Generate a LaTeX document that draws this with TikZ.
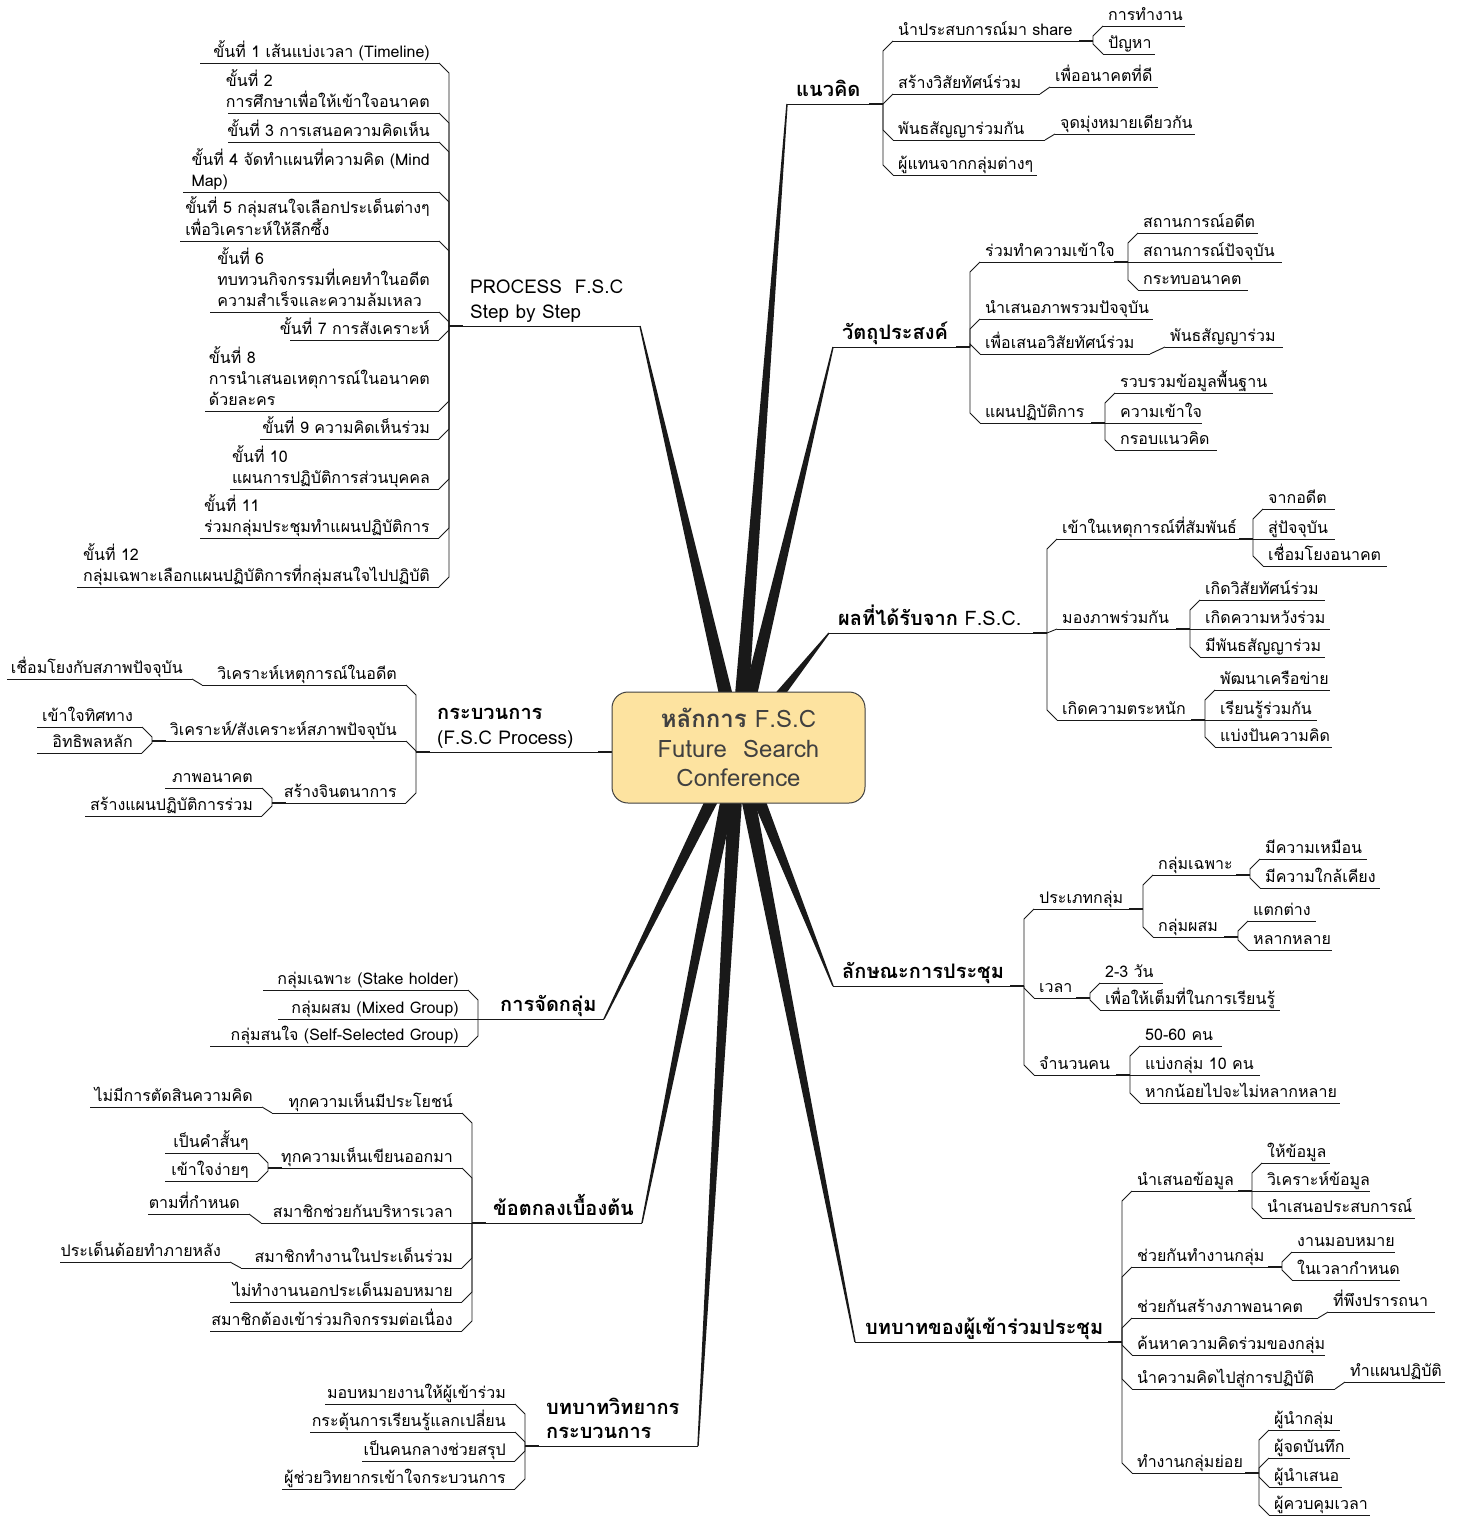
\documentclass[tikz,border=0pt]{standalone}
\usepackage{fontspec}
\setmainfont[Script=Thai]{Loma}
\usetikzlibrary{calc}
\definecolor{boxfill}{RGB}{253,227,160}
\definecolor{ink}{RGB}{25,25,25}

\tikzset{
  ul/.style={draw=ink, line width=0.9pt},
  stub/.style={draw=ink, line width=2.8pt},
  tx/.style={inner sep=0pt, text depth=3.5pt, align=left, font=\fontsize{16}{21}\selectfont},
  hd/.style={inner sep=0pt, text depth=4pt, align=left, font=\fontsize{20}{24}\selectfont\bfseries},
  hdl/.style={inner sep=0pt, text depth=4pt, align=left, font=\fontsize{19}{25}\selectfont},
}

% topic on an underline, text at the left end (right-hand side of the map)
\newcommand\topicR[5]{%
  \coordinate (#1-l) at (#2,#4);
  \coordinate (#1-r) at (#3,#4);
  \node[tx,anchor=south west] (#1) at ($(#1-l)+(5,-2)$) {#5};
  \draw[ul] (#1-l) -- (#1-r);}
% topic on an underline, text at the right end (left-hand side of the map)
\newcommand\topicL[5]{%
  \coordinate (#1-l) at (#2,#4);
  \coordinate (#1-r) at (#3,#4);
  \node[tx,anchor=south east] (#1) at ($(#1-r)+(-9,-2)$) {#5};
  \draw[ul] (#1-l) -- (#1-r);}
% main branch heading: name, x-left, x-right, y, text x, style, text
\newcommand\head[7]{%
  \coordinate (#1-l) at (#2,#4);
  \coordinate (#1-r) at (#3,#4);
  \node[#6,anchor=south west] (#1) at (#5,#4-3) {#7};
  \draw[ul] (#1-l) -- (#1-r);}
% chamfered connectors
\newcommand\linkR[3]{\draw[ul] (#1) -| ($(#2-l)+(-10,#3)$) -- (#2-l);}
\newcommand\linkL[3]{\draw[ul] (#1) -| ($(#2-r)+(10,#3)$) -- (#2-r);}
\newcommand\stubR[1]{\draw[stub] ($(#1-r)+(-14,0)$) -- (#1-r);}
\newcommand\stubL[1]{\draw[stub] (#1-l) -- ($(#1-l)+(14,0)$);}
% tapered spoke from the hub to a heading
\newcommand\spoke[1]{\fill[ink] ($(hub)!7.5pt!90:(#1)$) -- ($(#1)!0.7pt!-90:(hub)$) -- ($(#1)!0.7pt!90:(hub)$) -- ($(hub)!7.5pt!-90:(#1)$) -- cycle;}

\begin{document}
\begin{tikzpicture}[x=1pt,y=-1pt]
\fill[white] (0,0) rectangle (1459,1518);
\useasboundingbox (0,0) rectangle (1459,1518);
\coordinate (hub) at (738,747);

% ---------------- แนวคิด
\head{A}{787}{883}{104}{796}{hd}{แนวคิด}
\topicR{A1}{893}{1093}{41}{นำประสบการณ์มา share}
\topicR{A1a}{1103}{1185}{26}{การทำงาน}
\topicR{A1b}{1103}{1155}{54}{ปัญหา}
\topicR{A2}{893}{1040}{94}{สร้างวิสัยทัศน์ร่วม}
\topicR{A2a}{1050}{1158}{87}{เพื่ออนาคตที่ดี}
\topicR{A3}{893}{1045}{140}{พันธสัญญาร่วมกัน}
\topicR{A3a}{1055}{1195}{134}{จุดมุ่งหมายเดียวกัน}
\topicR{A4}{893}{1037}{175}{ผู้แทนจากกลุ่มต่างๆ}
\linkR{A-r}{A1}{10}\linkR{A-r}{A2}{10}\linkR{A-r}{A3}{-10}\linkR{A-r}{A4}{-10}
\linkR{A1-r}{A1a}{10}\linkR{A1-r}{A1b}{-10}
\draw[ul] (A2-r) -- (A2a-l);
\draw[ul] (A3-r) -- (A3a-l);
\stubR{A}\stubR{A1}

% ---------------- วัตถุประสงค์
\head{B}{833}{970}{347}{842}{hd}{วัตถุประสงค์}
\topicR{B1}{980}{1128}{262}{ร่วมทำความเข้าใจ}
\topicR{B1a}{1138}{1258}{233}{สถานการณ์อดีต}
\topicR{B1b}{1138}{1282}{262}{สถานการณ์ปัจจุบัน}
\topicR{B1c}{1138}{1248}{290}{กระทบอนาคต}
\topicR{B2}{980}{1153}{319}{นำเสนอภาพรวมปัจจุบัน}
\topicR{B3}{980}{1150}{354}{เพื่อเสนอวิสัยทัศน์ร่วม}
\topicR{B3a}{1165}{1283}{347}{พันธสัญญาร่วม}
\topicR{B4}{980}{1105}{423}{แผนปฏิบัติการ}
\topicR{B4a}{1115}{1273}{393}{รวบรวมข้อมูลพื้นฐาน}
\topicR{B4b}{1115}{1202}{423}{ความเข้าใจ}
\topicR{B4c}{1115}{1217}{450}{กรอบแนวคิด}
\linkR{B-r}{B1}{10}\linkR{B-r}{B2}{10}\linkR{B-r}{B3}{-10}\linkR{B-r}{B4}{-10}
\linkR{B1-r}{B1a}{10}\linkR{B1-r}{B1b}{0}\linkR{B1-r}{B1c}{-10}
\linkR{B4-r}{B4a}{10}\linkR{B4-r}{B4b}{0}\linkR{B4-r}{B4c}{-10}
\draw[ul] (B3-r) -- (B3a-l);
\stubR{B}\stubR{B1}\stubR{B4}

% ---------------- ผลที่ได้รับจาก F.S.C.
\head{C}{829}{1047}{633}{838}{hd}{ผลที่ได้รับจาก {\mdseries F.S.C.}}
\topicR{C1}{1057}{1253}{539}{เข้าในเหตุการณ์ที่สัมพันธ์}
\topicR{C1a}{1263}{1335}{509}{จากอดีต}
\topicR{C1b}{1263}{1335}{539}{สู่ปัจจุบัน}
\topicR{C1c}{1263}{1387}{566}{เชื่อมโยงอนาคต}
\topicR{C2}{1057}{1190}{629}{มองภาพร่วมกัน}
\topicR{C2a}{1200}{1325}{600}{เกิดวิสัยทัศน์ร่วม}
\topicR{C2b}{1200}{1330}{629}{เกิดความหวังร่วม}
\topicR{C2c}{1200}{1325}{657}{มีพันธสัญญาร่วม}
\topicR{C3}{1057}{1205}{720}{เกิดความตระหนัก}
\topicR{C3a}{1215}{1330}{690}{พัฒนาเครือข่าย}
\topicR{C3b}{1215}{1317}{720}{เรียนรู้ร่วมกัน}
\topicR{C3c}{1215}{1332}{747}{แบ่งปันความคิด}
\linkR{C-r}{C1}{10}\linkR{C-r}{C2}{4}\linkR{C-r}{C3}{-10}
\linkR{C1-r}{C1a}{10}\linkR{C1-r}{C1b}{0}\linkR{C1-r}{C1c}{-10}
\linkR{C2-r}{C2a}{10}\linkR{C2-r}{C2b}{0}\linkR{C2-r}{C2c}{-10}
\linkR{C3-r}{C3a}{10}\linkR{C3-r}{C3b}{0}\linkR{C3-r}{C3c}{-10}
\stubR{C}\stubR{C1}\stubR{C2}\stubR{C3}

% ---------------- ลักษณะการประชุม
\head{D}{833}{1024}{986}{842}{hd}{ลักษณะการประชุม}
\topicR{D1}{1034}{1143}{909}{ประเภทกลุ่ม}
\topicR{D1a}{1153}{1250}{875}{กลุ่มเฉพาะ}
\topicR{D1a1}{1260}{1367}{859}{มีความเหมือน}
\topicR{D1a2}{1260}{1380}{888}{มีความใกล้เคียง}
\topicR{D1b}{1153}{1238}{937}{กลุ่มผสม}
\topicR{D1b1}{1248}{1316}{921}{แตกต่าง}
\topicR{D1b2}{1248}{1332}{950}{หลากหลาย}
\topicR{D2}{1034}{1090}{998}{เวลา}
\topicR{D2a}{1100}{1163}{983}{2-3 วัน}
\topicR{D2b}{1100}{1280}{1010}{เพื่อให้เต็มที่ในการเรียนรู้}
\topicR{D3}{1034}{1130}{1075}{จำนวนคน}
\topicR{D3a}{1140}{1222}{1046}{50-60 คน}
\topicR{D3b}{1140}{1260}{1075}{แบ่งกลุ่ม 10 คน}
\topicR{D3c}{1140}{1340}{1103}{หากน้อยไปจะไม่หลากหลาย}
\linkR{D-r}{D1}{10}\linkR{D-r}{D2}{-10}\linkR{D-r}{D3}{-10}
\linkR{D1-r}{D1a}{10}\linkR{D1-r}{D1b}{-10}
\linkR{D1a-r}{D1a1}{10}\linkR{D1a-r}{D1a2}{-10}
\linkR{D1b-r}{D1b1}{10}\linkR{D1b-r}{D1b2}{-10}
\linkR{D2-r}{D2a}{10}\linkR{D2-r}{D2b}{-10}
\linkR{D3-r}{D3a}{10}\linkR{D3-r}{D3b}{0}\linkR{D3-r}{D3c}{-10}
\stubR{D}\stubR{D1}\stubR{D1a}\stubR{D1b}\stubR{D2}\stubR{D3}

% ---------------- บทบาทของผู้เข้าร่วมประชุม
\head{E}{855}{1122}{1342}{865}{hd}{บทบาทของผู้เข้าร่วมประชุม}
\topicR{E1}{1132}{1252}{1191}{นำเสนอข้อมูล}
\topicR{E1a}{1262}{1330}{1163}{ให้ข้อมูล}
\topicR{E1b}{1262}{1370}{1191}{วิเคราะห์ข้อมูล}
\topicR{E1c}{1262}{1415}{1218}{นำเสนอประสบการณ์}
\topicR{E2}{1132}{1282}{1267}{ช่วยกันทำงานกลุ่ม}
\topicR{E2a}{1292}{1395}{1252}{งานมอบหมาย}
\topicR{E2b}{1292}{1400}{1280}{ในเวลากำหนด}
\topicR{E3}{1132}{1318}{1318}{ช่วยกันสร้างภาพอนาคต}
\topicR{E3a}{1328}{1435}{1312}{ที่พึงปรารถนา}
\topicR{E4}{1132}{1325}{1355}{ค้นหาความคิดร่วมของกลุ่ม}
\topicR{E5}{1132}{1335}{1389}{นำความคิดไปสู่การปฏิบัติ}
\topicR{E5a}{1345}{1445}{1382}{ทำแผนปฏิบัติ}
\topicR{E6}{1132}{1259}{1473}{ทำงานกลุ่มย่อย}
\topicR{E6a}{1269}{1340}{1430}{ผู้นำกลุ่ม}
\topicR{E6b}{1269}{1350}{1458}{ผู้จดบันทึก}
\topicR{E6c}{1269}{1342}{1487}{ผู้นำเสนอ}
\topicR{E6d}{1269}{1370}{1515}{ผู้ควบคุมเวลา}
\linkR{E-r}{E1}{10}\linkR{E-r}{E2}{10}\linkR{E-r}{E3}{10}
\linkR{E-r}{E4}{-10}\linkR{E-r}{E5}{-10}\linkR{E-r}{E6}{-10}
\linkR{E1-r}{E1a}{10}\linkR{E1-r}{E1b}{0}\linkR{E1-r}{E1c}{-10}
\linkR{E2-r}{E2a}{10}\linkR{E2-r}{E2b}{-10}
\linkR{E6-r}{E6a}{10}\linkR{E6-r}{E6b}{10}\linkR{E6-r}{E6c}{-10}\linkR{E6-r}{E6d}{-10}
\draw[ul] (E3-r) -- (E3a-l);
\draw[ul] (E5-r) -- (E5a-l);
\stubR{E}\stubR{E1}\stubR{E2}\stubR{E6}

% ---------------- PROCESS F.S.C Step by Step
\head{P}{449}{640}{326}{470}{hdl}{PROCESS~~F.S.C\\Step by Step}
\topicL{P1}{200}{439}{63}{ขั้นที่ 1 เส้นแบ่งเวลา (Timeline)}
\topicL{P2}{228}{439}{113}{ขั้นที่ 2\\การศึกษาเพื่อให้เข้าใจอนาคต}
\topicL{P3}{228}{439}{142}{ขั้นที่ 3 การเสนอความคิดเห็น}
\topicL{P4}{183}{439}{192}{ขั้นที่ 4 จัดทำแผนที่ความคิด (Mind\\Map)}
\topicL{P5}{180}{439}{241}{ขั้นที่ 5 กลุ่มสนใจเลือกประเด็นต่างๆ\\เพื่อวิเคราะห์ให้ลึกซึ้ง}
\topicL{P6}{210}{439}{312}{ขั้นที่ 6\\ทบทวนกิจกรรมที่เคยทำในอดีต\\ความสำเร็จและความล้มเหลว}
\topicL{P7}{290}{439}{340}{ขั้นที่ 7 การสังเคราะห์}
\topicL{P8}{205}{439}{411}{ขั้นที่ 8\\การนำเสนอเหตุการณ์ในอนาคต\\ด้วยละคร}
\topicL{P9}{260}{439}{439}{ขั้นที่ 9 ความคิดเห็นร่วม}
\topicL{P10}{230}{439}{489}{ขั้นที่ 10\\แผนการปฏิบัติการส่วนบุคคล}
\topicL{P11}{200}{439}{538}{ขั้นที่ 11\\ร่วมกลุ่มประชุมทำแผนปฏิบัติการ}
\topicL{P12}{77}{439}{587}{ขั้นที่ 12\\กลุ่มเฉพาะเลือกแผนปฏิบัติการที่กลุ่มสนใจไปปฏิบัติ}
\linkL{P-l}{P1}{10}\linkL{P-l}{P2}{10}\linkL{P-l}{P3}{10}
\linkL{P-l}{P4}{10}\linkL{P-l}{P5}{10}\linkL{P-l}{P6}{10}
\linkL{P-l}{P7}{-10}\linkL{P-l}{P8}{-10}\linkL{P-l}{P9}{-10}
\linkL{P-l}{P10}{-10}\linkL{P-l}{P11}{-10}\linkL{P-l}{P12}{-10}
\stubL{P}

% ---------------- กระบวนการ (F.S.C Process)
\head{Q}{416}{612}{752}{437}{hdl}{{\bfseries\fontsize{20}{24}\selectfont กระบวนการ}\\(F.S.C Process)}
\topicL{Q1}{202}{406}{685}{วิเคราะห์เหตุการณ์ในอดีต}
\topicL{Q1a}{7}{192}{679}{เชื่อมโยงกับสภาพปัจจุบัน}
\topicL{Q2}{152}{406}{741}{วิเคราะห์/สังเคราะห์สภาพปัจจุบัน}
\topicL{Q2a}{37}{142}{727}{เข้าใจทิศทาง}
\topicL{Q2b}{37}{142}{753}{อิทธิพลหลัก}
\topicL{Q3}{272}{406}{803}{สร้างจินตนาการ}
\topicL{Q3a}{165}{262}{788}{ภาพอนาคต}
\topicL{Q3b}{85}{262}{816}{สร้างแผนปฏิบัติการร่วม}
\linkL{Q-l}{Q1}{10}\linkL{Q-l}{Q2}{10}\linkL{Q-l}{Q3}{-10}
\draw[ul] (Q1-l) -- (Q1a-r);
\linkL{Q2-l}{Q2a}{10}\linkL{Q2-l}{Q2b}{-10}
\linkL{Q3-l}{Q3a}{10}\linkL{Q3-l}{Q3b}{-10}
\stubL{Q}\stubR{Q}\stubL{Q2}\stubL{Q3}

% ---------------- การจัดกลุ่ม
\head{R}{478}{604}{1019}{500}{hd}{การจัดกลุ่ม}
\topicL{R1}{263}{468}{990}{กลุ่มเฉพาะ (Stake holder)}
\topicL{R2}{278}{468}{1019}{กลุ่มผสม (Mixed Group)}
\topicL{R3}{210}{468}{1046}{กลุ่มสนใจ (Self-Selected Group)}
\linkL{R-l}{R1}{10}\linkL{R-l}{R2}{0}\linkL{R-l}{R3}{-10}

% ---------------- ข้อตกลงเบื้องต้น
\head{S}{472}{642}{1223}{493}{hd}{ข้อตกลงเบื้องต้น}
\topicL{S1}{272}{462}{1113}{ทุกความเห็นมีประโยชน์}
\topicL{S1a}{90}{262}{1107}{ไม่มีการตัดสินความคิด}
\topicL{S2}{268}{462}{1168}{ทุกความเห็นเขียนออกมา}
\topicL{S2a}{165}{258}{1153}{เป็นคำสั้นๆ}
\topicL{S2b}{165}{258}{1181}{เข้าใจง่ายๆ}
\topicL{S3}{261}{462}{1223}{สมาชิกช่วยกันบริหารเวลา}
\topicL{S3a}{148}{249}{1214}{ตามที่กำหนด}
\topicL{S4}{241}{462}{1268}{สมาชิกทำงานในประเด็นร่วม}
\topicL{S4a}{60}{230}{1262}{ประเด็นด้อยทำภายหลัง}
\topicL{S5}{230}{462}{1302}{ไม่ทำงานนอกประเด็นมอบหมาย}
\topicL{S6}{210}{462}{1331}{สมาชิกต้องเข้าร่วมกิจกรรมต่อเนื่อง}
\linkL{S-l}{S1}{10}\linkL{S-l}{S2}{10}\linkL{S-l}{S3}{0}
\linkL{S-l}{S4}{-10}\linkL{S-l}{S5}{-10}\linkL{S-l}{S6}{-10}
\draw[ul] (S1-l) -- (S1a-r);
\linkL{S2-l}{S2a}{10}\linkL{S2-l}{S2b}{-10}
\draw[ul] (S3-l) -- (S3a-r);
\draw[ul] (S4-l) -- (S4a-r);
\stubL{S}\stubL{S2}

% ---------------- บทบาทวิทยากรกระบวนการ
\head{T}{525}{698}{1446}{546}{hd}{บทบาทวิทยากร\\กระบวนการ}
\topicL{T1}{325}{515}{1404}{มอบหมายงานให้ผู้เข้าร่วม}
\topicL{T2}{310}{515}{1432}{กระตุ้นการเรียนรู้แลกเปลี่ยน}
\topicL{T3}{362}{515}{1461}{เป็นคนกลางช่วยสรุป}
\topicL{T4}{282}{515}{1489}{ผู้ช่วยวิทยากรเข้าใจกระบวนการ}
\linkL{T-l}{T1}{10}\linkL{T-l}{T2}{10}\linkL{T-l}{T3}{-10}\linkL{T-l}{T4}{-10}
\stubL{T}

% ---------------- spokes from the central topic
\spoke{A-l}\spoke{B-l}\spoke{C-l}\spoke{D-l}\spoke{E-l}
\spoke{P-r}\spoke{R-r}\spoke{S-r}\spoke{T-r}

% ---------------- central topic
\node[draw=black!75, fill=boxfill, line width=1pt, rounded corners=16pt,
      minimum width=253pt, minimum height=111pt, align=center, text=black!75,
      font=\fontsize{24}{29.5}\selectfont] (ctr) at (738.5,747.5)
  {{\bfseries หลักการ} F.S.C\\Future~~Search\\Conference};
\end{tikzpicture}
\end{document}
